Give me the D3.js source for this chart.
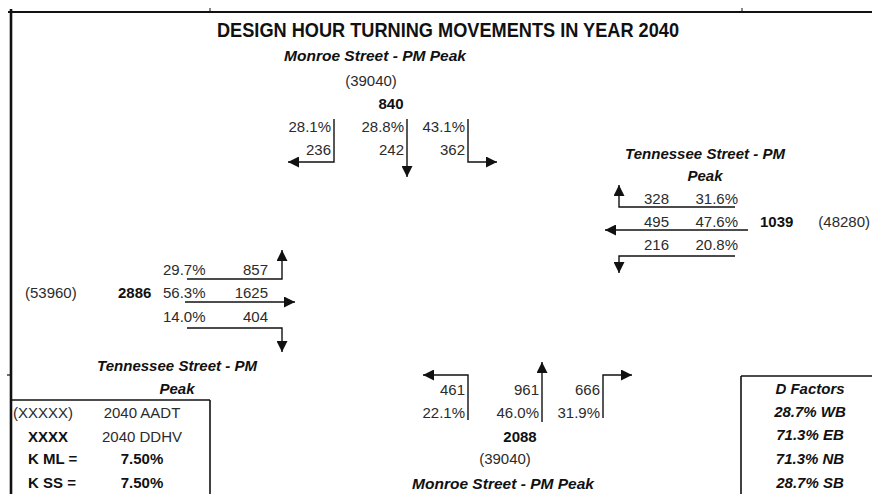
<!DOCTYPE html>
<html>
<head>
<meta charset="utf-8">
<script src="https://cdnjs.cloudflare.com/ajax/libs/d3/7.8.5/d3.min.js"></script>
<style>
  body { margin: 0; background: #fff; }
  svg { display: block; }
  text { font-family: "Liberation Sans", Arial, sans-serif; font-size: 15px; fill: #2b2b2b; }
  .b { font-weight: bold; fill: #111; }
  .bi { font-weight: bold; font-style: italic; fill: #111; }
</style>
</head>
<body>
<svg id="chart"></svg>
<script>
// ---- data ----
const title = "DESIGN HOUR TURNING MOVEMENTS IN YEAR 2040";
const streetNS = "Monroe Street - PM Peak";
const streetEW = ["Tennessee Street - PM", "Peak"];

const sbVolumes = [236, 242, 362];
const sbPercents = ["28.1%", "28.8%", "43.1%"];
const sbTotal = 840, sbAadt = 39040;

const wbVolumes = [328, 495, 216];
const wbPercents = ["31.6%", "47.6%", "20.8%"];
const wbTotal = 1039, wbAadt = 48280;

const ebVolumes = [857, 1625, 404];
const ebPercents = ["29.7%", "56.3%", "14.0%"];
const ebTotal = 2886, ebAadt = 53960;

const nbVolumes = [461, 961, 666];
const nbPercents = ["22.1%", "46.0%", "31.9%"];
const nbTotal = 2088, nbAadt = 39040;

const legendLeft = ["(XXXXX)", "XXXX", "K ML =", "K SS ="];
const legendRight = ["2040 AADT", "2040 DDHV", "7.50%", "7.50%"];
const dFactors = ["D Factors", "28.7% WB", "71.3% EB", "71.3% NB", "28.7% SB"];

(() => {
    let width = 872, height = 494;
    let svg = d3.select('#chart').attr('width', width).attr('height', height);

    svg.append('defs').append('marker')
        .attr('id', 'head')
        .attr('markerUnits', 'userSpaceOnUse')
        .attr('viewBox', '0 -5 10 10')
        .attr('refX', 10).attr('refY', 0)
        .attr('markerWidth', 11).attr('markerHeight', 11)
        .attr('orient', 'auto')
        .append('path').attr('d', 'M0,-5L10,0L0,5Z').attr('fill', '#111');

    let line = d3.line();
    function arrow(pts) {
        svg.append('path')
            .attr('d', line(pts))
            .attr('fill', 'none')
            .attr('stroke', '#111')
            .attr('stroke-width', 1.4)
            .attr('marker-end', 'url(#head)');
    }
    function rule(pts, w) {
        svg.append('path').attr('d', line(pts)).attr('fill', 'none')
            .attr('stroke', '#111').attr('stroke-width', w || 2);
    }
    function label(x, y, t, anchor, cls, len) {
        let el = svg.append('text').attr('x', x).attr('y', y)
            .attr('text-anchor', anchor || 'start').text(t);
        if (cls) el.attr('class', cls);
        if (len) el.attr('textLength', len).attr('lengthAdjust', 'spacingAndGlyphs');
        return el;
    }
    let fmt = d3.format('d');

    // frame
    rule([[8, 12], [872, 12]], 2.2);
    rule([[11, 9], [11, 494]], 2.6);
    rule([[210, 8], [210, 12]], 1);
    rule([[742, 8], [742, 12]], 1);
    rule([[7, 375], [11, 375]], 1.2);

    label(448, 37, title, 'middle', 'b', 462).style('font-size', '20px');

    // ---- southbound (top) ----
    let sbX = d3.scaleOrdinal().domain([0, 1, 2]).range([334, 407, 468]);
    label(375, 61, streetNS, 'middle', 'bi', 182);
    label(371, 86, '(' + fmt(sbAadt) + ')', 'middle');
    label(391, 109, sbTotal, 'middle', 'b');
    sbPercents.forEach((p, i) => label(sbX(i) - 3, 132, p, 'end'));
    sbVolumes.forEach((v, i) => label(sbX(i) - 3, 155, v, 'end'));
    arrow([[sbX(0), 119], [sbX(0), 162], [288, 162]]);
    arrow([[sbX(1), 119], [sbX(1), 177]]);
    arrow([[sbX(2), 119], [sbX(2), 162], [497, 162]]);

    // ---- westbound (right) ----
    let wbY = d3.scaleOrdinal().domain([0, 1, 2]).range([204, 227, 250]);
    label(705, 159, streetEW[0], 'middle', 'bi', 160);
    label(705, 181, streetEW[1], 'middle', 'bi');
    wbVolumes.forEach((v, i) => label(669, wbY(i), v, 'end'));
    wbPercents.forEach((p, i) => label(738, wbY(i), p, 'end'));
    label(760, wbY(1), wbTotal, 'start', 'b');
    label(870, wbY(1), '(' + fmt(wbAadt) + ')', 'end');
    arrow([[735, 207], [619, 207], [619, 185]]);
    arrow([[748, 230], [605, 230]]);
    arrow([[735, 256], [619, 256], [619, 273]]);

    // ---- eastbound (left) ----
    let ebY = d3.scaleOrdinal().domain([0, 1, 2]).range([275, 298, 322]);
    ebPercents.forEach((p, i) => label(163, ebY(i), p));
    ebVolumes.forEach((v, i) => label(268, ebY(i), v, 'end'));
    label(118, ebY(1), ebTotal, 'start', 'b');
    label(25, ebY(1), '(' + fmt(ebAadt) + ')');
    arrow([[187, 279], [282, 279], [282, 250]]);
    arrow([[185, 302], [295, 302]]);
    arrow([[187, 328], [282, 328], [282, 352]]);
    label(177, 371, streetEW[0], 'middle', 'bi', 160);
    label(177, 394, streetEW[1], 'middle', 'bi');

    // ---- northbound (bottom) ----
    let nbX = d3.scaleOrdinal().domain([0, 1, 2]).range([468, 542, 603]);
    nbVolumes.forEach((v, i) => label(nbX(i) - 3, 395, v, 'end'));
    nbPercents.forEach((p, i) => label(nbX(i) - 3, 418, p, 'end'));
    arrow([[nbX(0), 420], [nbX(0), 375], [423, 375]]);
    arrow([[nbX(1), 422], [nbX(1), 362]]);
    arrow([[nbX(2), 418], [nbX(2), 375], [632, 375]]);
    label(520, 442, nbTotal, 'middle', 'b');
    label(505, 464, '(' + fmt(nbAadt) + ')', 'middle');
    label(503, 489, streetNS, 'middle', 'bi', 182);

    // ---- legend box (bottom left) ----
    rule([[11, 400], [210, 400]], 1.6);
    rule([[210, 400], [210, 494]], 1.6);
    let rowY = d3.scaleOrdinal().domain([0, 1, 2, 3]).range([418, 442, 464, 488]);
    legendLeft.forEach((t, i) => {
        let el = label(i === 0 ? 13 : 28, rowY(i), t);
        if (i > 0) el.attr('class', 'b');
    });
    legendRight.forEach((t, i) => {
        let el = label(142, rowY(i), t, 'middle');
        if (i > 1) el.attr('class', 'b');
    });

    // ---- D factors box (bottom right) ----
    rule([[741, 376], [872, 376]], 1.6);
    rule([[741, 376], [741, 494]], 1.6);
    let dY = d3.scaleOrdinal().domain(d3.range(dFactors.length)).range([394, 417, 440, 464, 488]);
    dFactors.forEach((t, i) => label(810, dY(i), t, 'middle', 'bi'));
})();
</script>
</body>
</html>
